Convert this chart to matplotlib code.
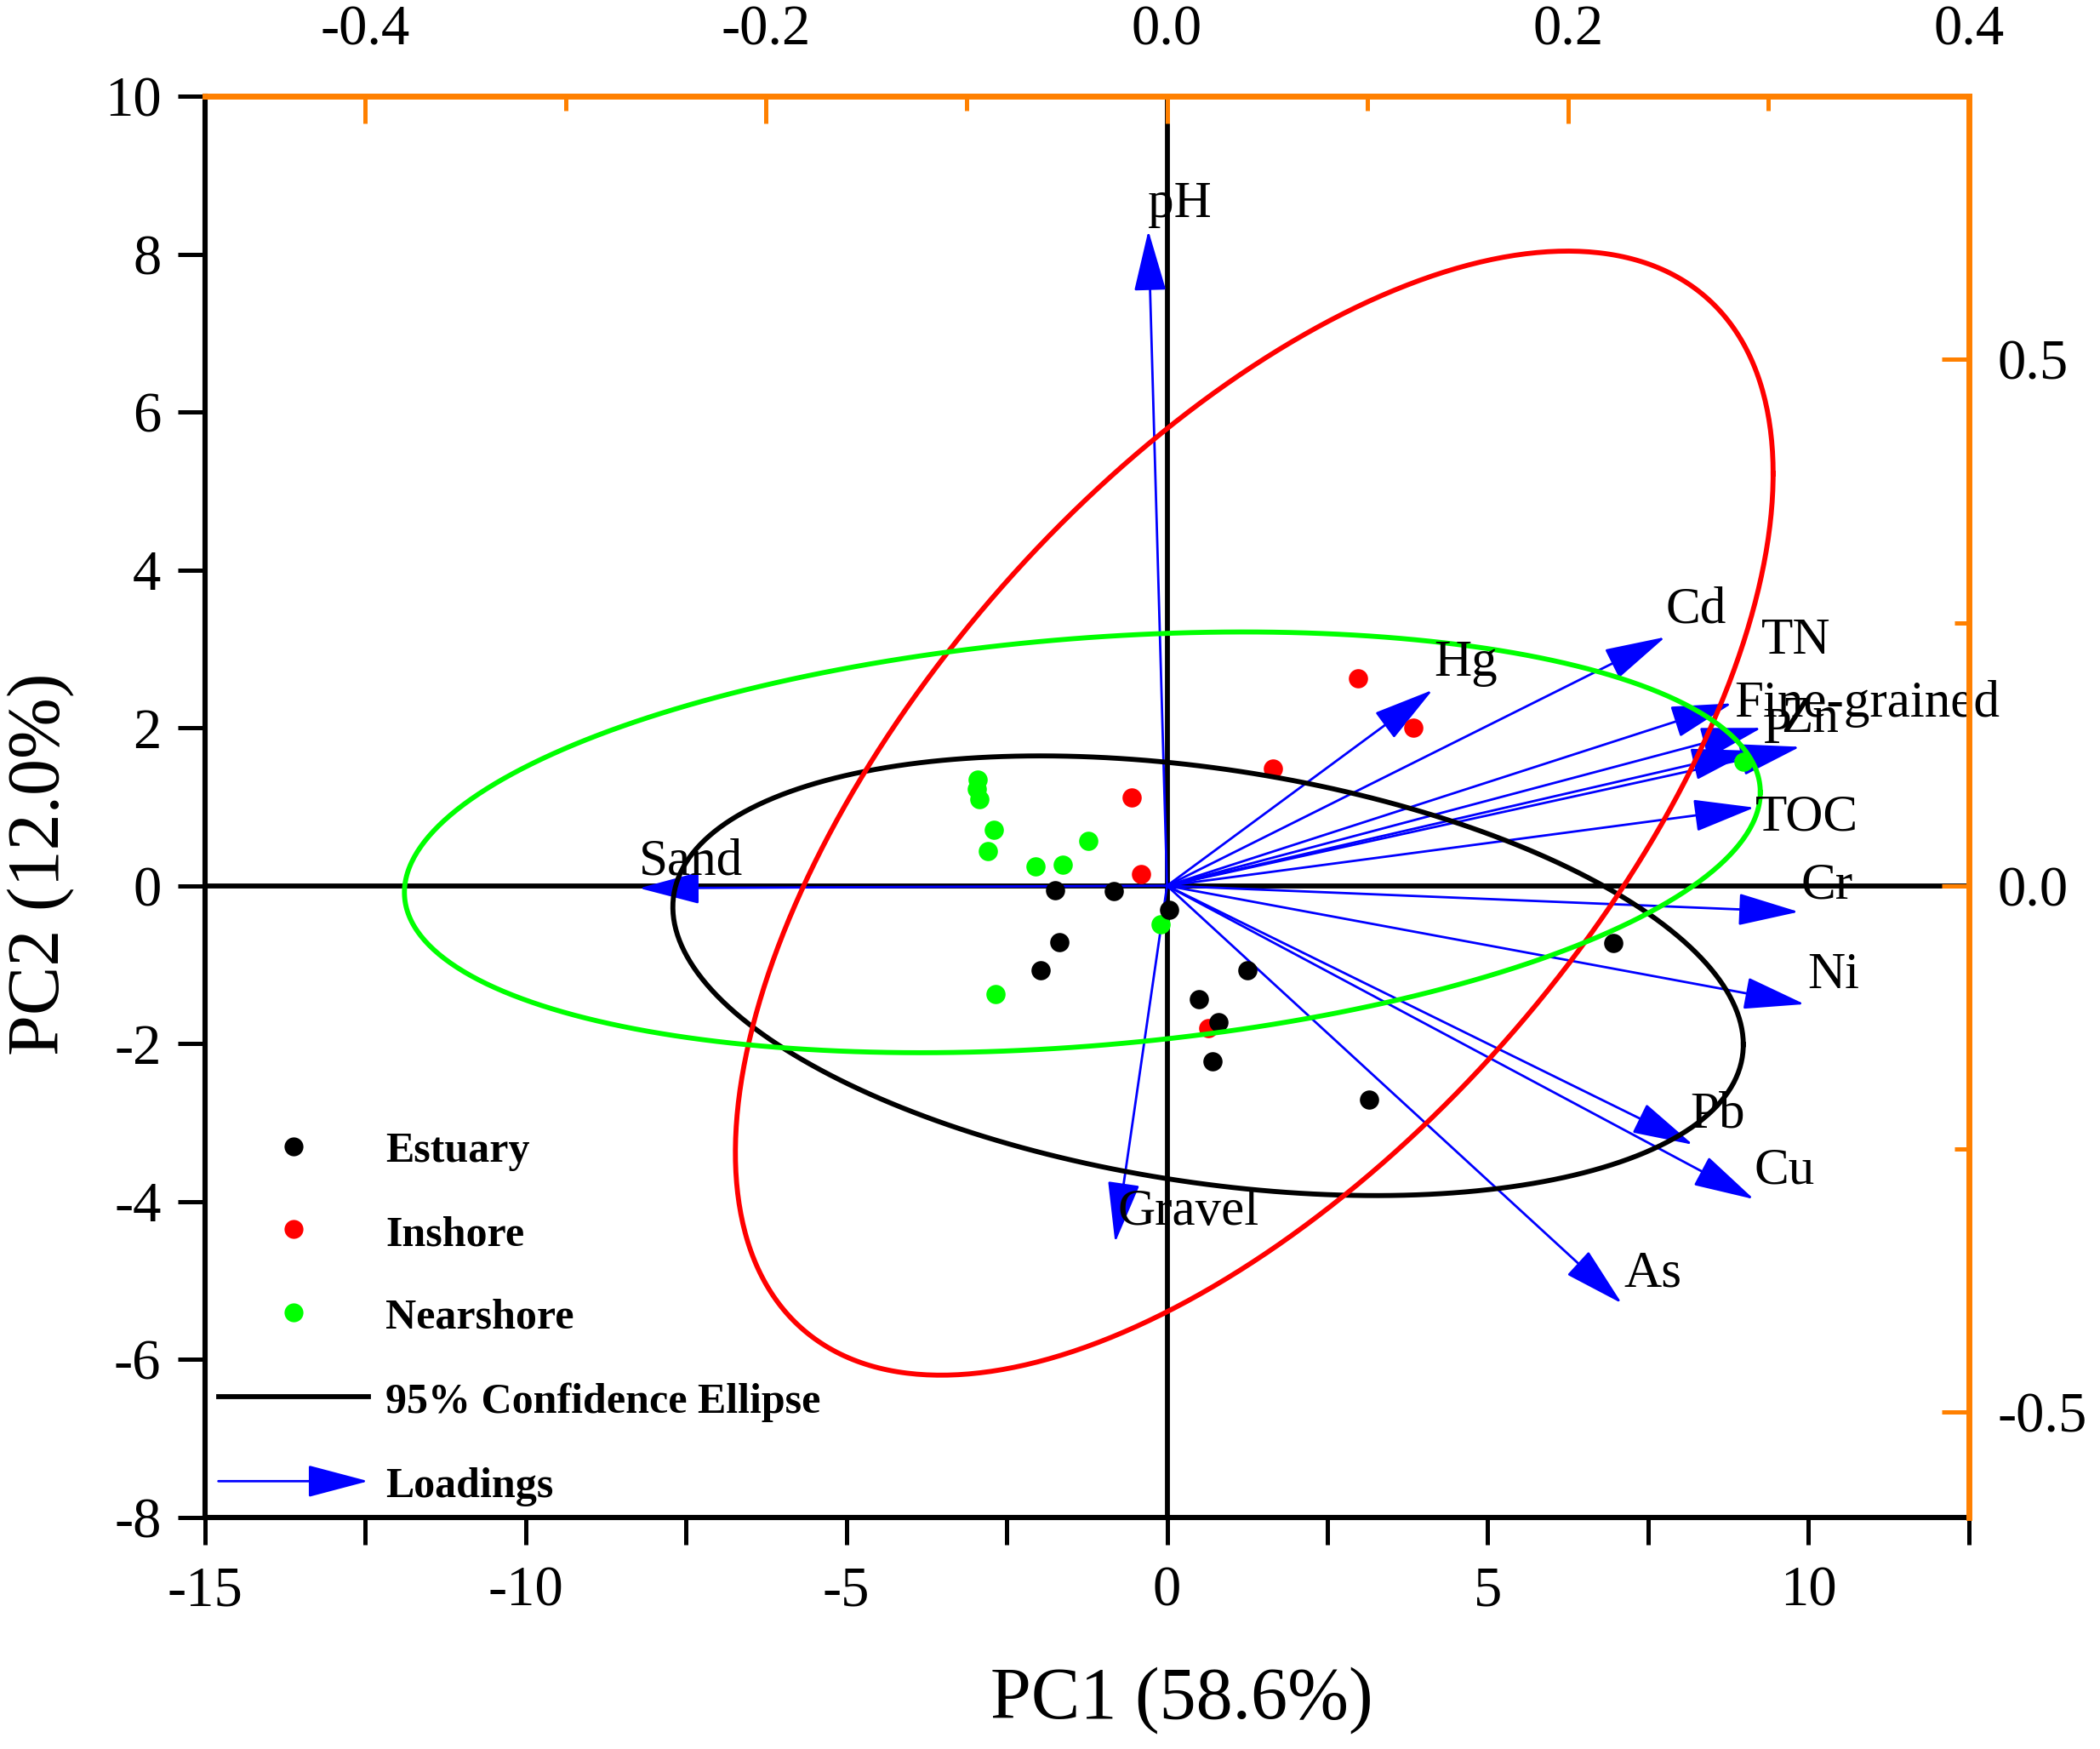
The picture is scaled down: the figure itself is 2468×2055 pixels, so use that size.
import numpy as np
import matplotlib.pyplot as plt
from matplotlib.patches import FancyArrowPatch
from matplotlib.ticker import FormatStrFormatter

plt.rcParams['font.family'] = ['Liberation Serif', 'DejaVu Serif']
plt.rcParams['axes.unicode_minus'] = False

# sample scores (PC1, PC2)
est_x = [-1.74, -0.83, 0.03, -1.68, -1.97, 1.25, 0.50, 0.80, 0.71, 3.15, 6.96]
est_y = [-0.06, -0.07, -0.31, -0.71, -1.07, -1.07, -1.44, -1.73, -2.22, -2.71, -0.73]
ins_x = [2.98, 3.84, 1.65, -0.55, -0.40, 0.64]
ins_y = [2.63, 2.00, 1.49, 1.12, 0.15, -1.80]
near_x = [-2.95, -2.97, -2.92, -2.70, -2.79, -1.23, -2.05, -1.63, -0.10, -2.67, 8.99]
near_y = [1.35, 1.23, 1.10, 0.71, 0.44, 0.57, 0.25, 0.27, -0.49, -1.37, 1.57]

# loadings (top / right axes)
var_names = ['pH', 'Sand', 'Gravel', 'Hg', 'Cd', 'TN', 'Fine-grained', 'P', 'Zn',
             'TOC', 'Cr', 'Ni', 'Pb', 'Cu', 'As']
load_x = [-0.0093, -0.2634, -0.0259, 0.1325, 0.2486, 0.2966, 0.2819, 0.2918, 0.3158,
          0.2931, 0.3152, 0.3181, 0.2624, 0.2928, 0.2269]
load_y = [0.6225, -0.0023, -0.3390, 0.1860, 0.2363, 0.1500, 0.1733, 0.1283, 0.1320,
          0.0743, -0.0248, -0.1125, -0.2460, -0.2978, -0.3968]

# 95% confidence ellipses: Estuary, Inshore, Nearshore
ell_cx = [0.64, 1.36, -1.32]
ell_cy = [-1.14, 0.92, 0.55]
ell_sx = [8.345, 8.09, 10.57]
ell_sy = [2.785, 7.12, 2.665]
ell_r = [-0.313, 0.604, 0.238]

# where the variable names sit (loading units)
lab_x = [-0.0094, -0.2636, -0.0248, 0.1331, 0.2488, 0.2963, 0.2829, 0.2970, 0.3064,
         0.2936, 0.3164, 0.3197, 0.2609, 0.2930, 0.2281]
lab_y = [0.6476, 0.0229, -0.3104, 0.2112, 0.2621, 0.2328, 0.1730, 0.1476, 0.1578,
         0.0649, 0.0, -0.0852, -0.2176, -0.2710, -0.3690]

orange = '#FF8000'
blue = '#0000FF'
group_col = ['#000000', '#FF0000', '#00FF00']

fig = plt.figure(figsize=(12.34, 10.275), dpi=200)
rect = [0.0976, 0.1325, 0.8399, 0.8124]
ax = fig.add_axes(rect)
ax2 = fig.add_axes(rect, facecolor='none')

ax.set_xlim(-15, 12.5)
ax.set_ylim(-8, 10)
ax2.set_xlim(-0.48, 0.4)
ax2.set_ylim(-0.6, 0.75)

# zero lines
ax.axhline(0, color='k', lw=2.1, zorder=1)
ax.axvline(0, color='k', lw=2.1, zorder=1)

# loading arrows
for i in range(len(var_names)):
    ax.annotate('', xy=(load_x[i], load_y[i]), xytext=(0, 0),
                xycoords=ax2.transData, textcoords=ax2.transData,
                arrowprops=dict(arrowstyle='-|>,head_length=2.27,head_width=0.6',
                                mutation_scale=10, color=blue, lw=1.0,
                                shrinkA=0, shrinkB=0),
                zorder=2)
    ax.text(lab_x[i], lab_y[i], var_names[i], transform=ax2.transData,
            fontsize=22, ha='left', va='center', zorder=5)

# points
ax.scatter(near_x, near_y, s=66, color=group_col[2], zorder=3, linewidths=0)
ax.scatter(ins_x, ins_y, s=66, color=group_col[1], zorder=3, linewidths=0)
ax.scatter(est_x, est_y, s=66, color=group_col[0], zorder=3, linewidths=0)

# ellipses
t = np.linspace(0, 2 * np.pi, 500)
for i in range(3):
    ex = ell_cx[i] + ell_sx[i] * np.cos(t)
    ey = ell_cy[i] + ell_sy[i] * (ell_r[i] * np.cos(t) + np.sqrt(1 - ell_r[i] ** 2) * np.sin(t))
    ax.plot(ex, ey, color=group_col[i], lw=2.1, zorder=4)

# bottom / left axes
ax.set_xticks([-15, -10, -5, 0, 5, 10])
ax.set_xticks([-12.5, -7.5, -2.5, 2.5, 7.5, 12.5], minor=True)
ax.set_yticks(np.arange(-8, 11, 2))
ax.tick_params(which='both', direction='out', length=11.5, width=1.8, labelsize=24)
ax.tick_params(axis='x', pad=9)
ax.tick_params(axis='y', pad=7)
ax.spines['top'].set_visible(False)
ax.spines['right'].set_visible(False)
ax.spines['left'].set_linewidth(2.2)
ax.spines['bottom'].set_linewidth(2.2)
ax.set_xlabel('PC1 (58.6%)', fontsize=31, va='center')
ax.xaxis.set_label_coords(0.554, -0.129)
ax.set_ylabel('PC2 (12.0%)', fontsize=31, va='center')
ax.yaxis.set_label_coords(-0.093, 0.46)

# top / right axes (loadings)
ax2.xaxis.tick_top()
ax2.yaxis.tick_right()
ax2.set_xticks([-0.4, -0.2, 0.0, 0.2, 0.4])
ax2.set_xticks([-0.3, -0.1, 0.1, 0.3], minor=True)
ax2.set_yticks([-0.5, 0.0, 0.5])
ax2.set_yticks([-0.25, 0.25], minor=True)
ax2.xaxis.set_major_formatter(FormatStrFormatter('%.1f'))
ax2.yaxis.set_major_formatter(FormatStrFormatter('%.1f'))
ax2.tick_params(which='major', direction='in', length=11.5, width=1.8,
                color=orange, labelsize=24, labelcolor='k')
ax2.tick_params(which='minor', direction='in', length=6, width=1.8, color=orange)
ax2.tick_params(axis='x', pad=17)
ax2.tick_params(axis='y', pad=12)
ax2.spines['left'].set_visible(False)
ax2.spines['bottom'].set_visible(False)
ax2.spines['top'].set_color(orange)
ax2.spines['right'].set_color(orange)
ax2.spines['top'].set_linewidth(2.5)
ax2.spines['right'].set_linewidth(2.5)

# legend
leg_y = [0.2611, 0.2026, 0.1442]
leg_names = ['Estuary', 'Inshore', 'Nearshore']
for i in range(3):
    ax.plot([0.0501], [leg_y[i]], 'o', color=group_col[i], ms=8, mec='none',
            transform=ax.transAxes, zorder=6)
    ax.text(0.1025, leg_y[i] - 0.004, leg_names[i], transform=ax.transAxes, fontsize=18,
            fontweight='bold', ha='left', va='center', zorder=6)
ax.plot([0.0076, 0.0926], [0.0848, 0.0848], color='k', lw=2.1,
        transform=ax.transAxes, zorder=6)
ax.text(0.1025, 0.0808, '95% Confidence Ellipse', transform=ax.transAxes, fontsize=18,
        fontweight='bold', ha='left', va='center', zorder=6)
ax.add_patch(FancyArrowPatch((0.0076, 0.0254), (0.0926, 0.0254), transform=ax.transAxes,
                             arrowstyle='-|>,head_length=2.27,head_width=0.6',
                             mutation_scale=10, color=blue, lw=1.0,
                             shrinkA=0, shrinkB=0, zorder=6))
ax.text(0.1025, 0.0214, 'Loadings', transform=ax.transAxes, fontsize=18,
        fontweight='bold', ha='left', va='center', zorder=6)

fig.savefig('out.png', dpi=200)
